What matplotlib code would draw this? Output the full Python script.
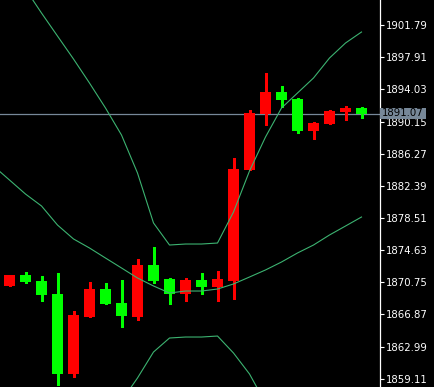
import matplotlib
matplotlib.use("Agg")
import matplotlib.pyplot as plt
from matplotlib.patches import Rectangle

# candles, oldest first (price)
opens = [1870.31, 1871.63, 1870.91, 1869.34, 1859.69, 1866.57, 1869.94, 1868.26,
         1866.57, 1872.84, 1871.15, 1869.34, 1871.03, 1870.19, 1870.91, 1884.30,
         1891.05, 1893.71, 1892.86, 1889.00, 1889.85, 1891.30, 1891.78]
highs = [1871.63, 1871.99, 1871.51, 1871.87, 1867.29, 1870.79, 1870.67, 1871.03,
         1873.56, 1875.01, 1871.27, 1871.27, 1871.87, 1872.12, 1885.75, 1891.54,
         1896.00, 1894.43, 1892.98, 1890.09, 1891.54, 1892.02, 1891.90]
lows = [1870.31, 1870.67, 1868.50, 1858.36, 1859.33, 1866.57, 1868.13, 1865.36,
        1866.20, 1870.67, 1868.13, 1868.50, 1869.34, 1868.50, 1868.74, 1884.30,
        1889.73, 1891.90, 1888.76, 1888.04, 1889.85, 1890.33, 1890.57]
closes = [1871.63, 1870.79, 1869.22, 1859.69, 1866.81, 1869.94, 1868.13, 1866.69,
          1872.84, 1870.91, 1869.34, 1871.03, 1870.19, 1871.15, 1884.42, 1891.18,
          1893.71, 1892.74, 1889.00, 1889.97, 1891.42, 1891.78, 1891.07]

# bollinger bands, starting one bar before the first visible candle
bb_upper = [1911.92, 1909.03, 1906.13, 1903.24, 1900.46, 1897.69, 1894.79, 1891.78,
            1888.52, 1883.94, 1877.91, 1875.25, 1875.37, 1875.37, 1875.49, 1879.23,
            1884.18, 1888.28, 1891.78, 1893.59, 1895.40, 1897.81, 1899.62, 1900.95]
bb_mid = [1884.78, 1883.09, 1881.40, 1879.96, 1877.66, 1875.98, 1874.89, 1873.68,
          1872.48, 1871.27, 1870.31, 1869.46, 1869.70, 1869.70, 1869.94, 1870.55,
          1871.39, 1872.24, 1873.20, 1874.29, 1875.25, 1876.46, 1877.54, 1878.63]
bb_lower = [1857.64, 1857.16, 1856.67, 1856.67, 1854.86, 1854.26, 1854.98, 1855.59,
            1856.43, 1859.21, 1862.34, 1864.03, 1864.15, 1864.15, 1864.27, 1862.22,
            1859.69, 1856.19, 1854.62, 1855.11, 1855.11, 1855.11, 1855.47, 1856.31]

yticks = [1901.79, 1897.91, 1894.03, 1890.15, 1886.27, 1882.39,
          1878.51, 1874.63, 1870.75, 1866.87, 1862.99, 1859.11]
last_price = 1891.07

W, H = 434, 387
fig = plt.figure(figsize=(W / 100, H / 100), dpi=100, facecolor="black")
ax = fig.add_axes([0, 0, 379.5 / W, 1])
ax.set_facecolor("black")

xs = list(range(len(opens)))
up_col, dn_col = "#ff0000", "#00ff00"
for i in xs:
    o, h, l, c = opens[i], highs[i], lows[i], closes[i]
    col = up_col if c >= o else dn_col
    ax.vlines(i, l, h, color=col, lw=0.8, antialiased=False, zorder=2)
    ax.bar(i, abs(c - o), bottom=min(o, c), width=0.69, color=col,
           linewidth=0, antialiased=False, zorder=3)

band_col = "#3cb371"
band_x = list(range(-1, len(opens)))
for band in (bb_upper, bb_mid, bb_lower):
    ax.plot(band_x, band, color=band_col, lw=0.8, zorder=4)

ax.axhline(last_price, color="#778899", lw=0.9, zorder=1)

px_per_bar = 16.0
ax.set_xlim(-9.5 / px_per_bar, (379.5 - 9.5) / px_per_bar)
ax.set_ylim(1858.12, 1904.81)

for s in ("left", "top", "bottom"):
    ax.spines[s].set_visible(False)
ax.spines["right"].set_color("white")
ax.spines["right"].set_linewidth(0.9)
ax.set_xticks([])
ax.yaxis.tick_right()
ax.set_yticks(yticks)
ax.set_yticklabels([f"{v:.2f}" for v in yticks])
ax.tick_params(axis="y", colors="white", direction="out", length=3,
               width=0.8, labelsize=7.3, pad=1.5)

# current price label
ly = 1 - 113.5 / H
fig.patches.append(Rectangle((380 / W, ly - 5.5 / H), 46 / W, 11 / H,
                             transform=fig.transFigure, facecolor="#778899",
                             edgecolor="none", zorder=5))
fig.text(403 / W, ly, f"{last_price:.2f}", color="black", fontsize=7.3,
         ha="center", va="center", zorder=6)

fig.savefig("out.png", dpi=100, facecolor="black")
